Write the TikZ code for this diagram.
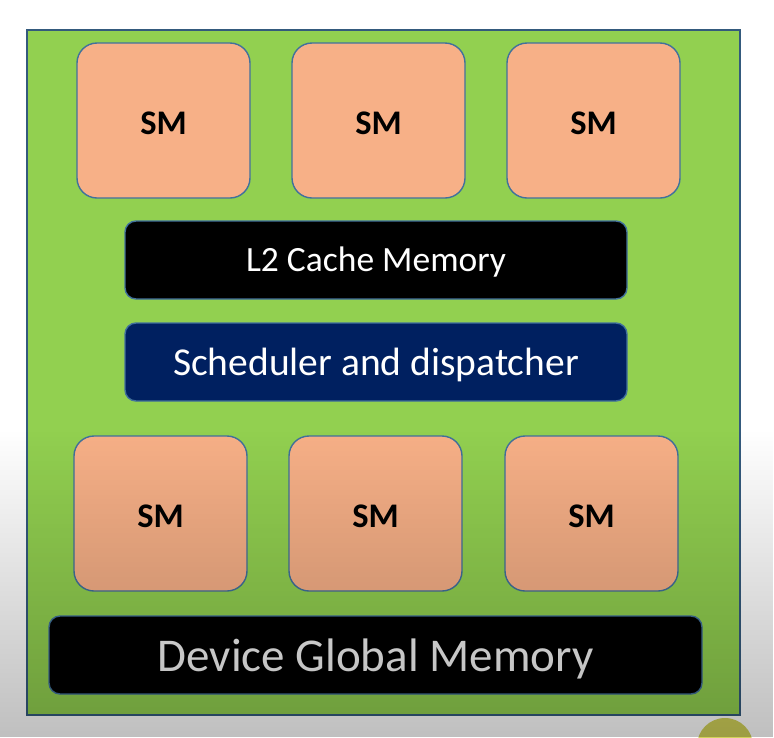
\documentclass[tikz,border=0pt]{standalone}
\usepackage{fontspec}
\setmainfont{Carlito}
\usetikzlibrary{fadings}
\definecolor{chipgreen}{HTML}{92D050}
\definecolor{smfill}{HTML}{F7B087}
\definecolor{edgeblue}{HTML}{41719C}
\definecolor{navyfill}{HTML}{002060}
\definecolor{softgray}{HTML}{F4F4F4}
\definecolor{cursoryellow}{HTML}{D2D25A}
\tikzfading[name=darkdown, top color=transparent!100, bottom color=transparent!0]
\tikzset{
  smbox/.style={draw=edgeblue, line width=1.4pt, fill=smfill, rounded corners=20pt,
    minimum width=173pt, minimum height=155pt, inner sep=0pt,
    text height=28pt, text depth=0pt,
    font=\fontsize{34.5}{40}\selectfont\bfseries, text=black},
  barbox/.style={draw=edgeblue, line width=1.4pt, rounded corners=11pt,
    minimum width=502pt, minimum height=78pt, inner sep=0pt},
  chip/.style={draw=edgeblue!80!black, line width=1.2pt, fill=chipgreen}
}
\begin{document}
\begin{tikzpicture}[x=1pt,y=-1pt]
\useasboundingbox (0,0) rectangle (774,737);
\fill[white] (0,0) rectangle (774,737);
\node[chip, minimum width=713pt, minimum height=685pt, inner sep=0pt] (frame) at (383.5,372.5) {};
\node[smbox] (sm1) at (163.5,120.5) {SM};
\node[smbox] (sm2) at (378.5,120.5) {SM};
\node[smbox] (sm3) at (593.5,120.5) {SM};
\node[barbox, fill=black, text=white, text height=29pt, text depth=7pt,
  font=\fontsize{35.5}{40}\selectfont] (l2) at (376,260) {L2 Cache Memory};
\node[barbox, fill=navyfill, text=white, text height=35pt, text depth=8pt,
  font=\fontsize{39.5}{44}\selectfont] (sched) at (376,362) {Scheduler and dispatcher};
\node[smbox] (sm4) at (160.5,513.5) {SM};
\node[smbox] (sm5) at (375.5,513.5) {SM};
\node[smbox] (sm6) at (591.5,513.5) {SM};
\node[barbox, fill=black, text=softgray, minimum width=653pt, text height=41pt, text depth=8pt,
  font=\fontsize{47}{52}\selectfont] (dgm) at (375.5,655) {Device Global Memory};
\fill[cursoryellow] (725,746) circle (28);
\fill[black, path fading=darkdown, fill opacity=0.25] (0,430) rectangle (774,737);
\end{tikzpicture}
\end{document}
